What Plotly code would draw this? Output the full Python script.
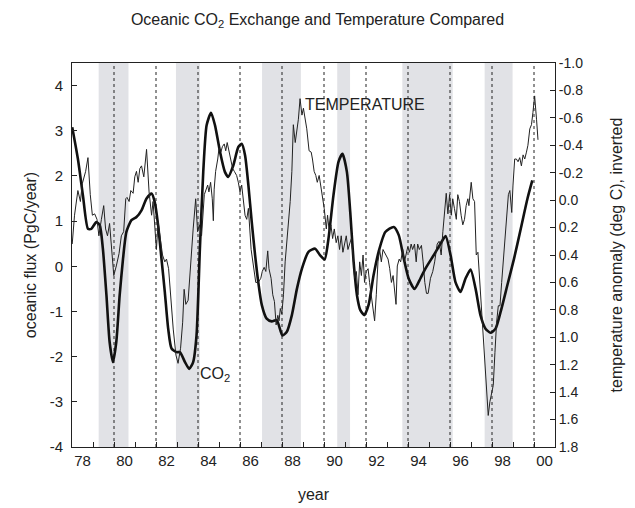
import plotly.graph_objects as go

# ---------------- data ----------------
co2_year = [1978.01, 1978.28, 1978.52, 1978.76, 1978.92, 1979.16, 1979.32, 1979.47, 1979.64, 1979.79,
            1979.95, 1980.11, 1980.27, 1980.43, 1980.59, 1980.83, 1981.07, 1981.31, 1981.55, 1981.79,
            1981.94, 1982.10, 1982.26, 1982.42, 1982.58, 1982.74, 1982.98, 1983.14, 1983.38, 1983.58,
            1983.77, 1983.93, 1984.09, 1984.25, 1984.41, 1984.62, 1984.81, 1985.05, 1985.28, 1985.44,
            1985.68, 1985.92, 1986.08, 1986.24, 1986.40, 1986.56, 1986.72, 1986.87, 1987.04, 1987.27,
            1987.51, 1987.75, 1988.02, 1988.23, 1988.47, 1988.71, 1988.95, 1989.26, 1989.58, 1989.82,
            1990.03, 1990.21, 1990.45, 1990.69, 1990.88, 1991.09, 1991.25, 1991.41, 1991.57, 1991.73,
            1991.92, 1992.12, 1992.36, 1992.60, 1992.92, 1993.32, 1993.56, 1993.80, 1994.03, 1994.31,
            1994.59, 1994.83, 1995.23, 1995.55, 1995.79, 1996.03, 1996.26, 1996.50, 1996.74, 1996.98,
            1997.22, 1997.45, 1997.69, 1997.93, 1998.17, 1998.41, 1998.73, 1999.05, 1999.37, 1999.69,
            1999.92]
co2_flux = [3.08, 2.38, 1.57, 0.83, 0.83, 0.98, 0.91, 0.39, -0.64, -1.67,
            -2.12, -1.67, -0.64, 0.17, 0.76, 1.02, 1.09, 1.24, 1.50, 1.61,
            1.42, 0.91, 0.17, -0.57, -1.38, -1.82, -1.90, -1.90, -2.12, -2.27,
            -2.12, -1.53, 0.39, 2.09, 3.12, 3.40, 3.12, 2.53, 2.09, 1.98,
            2.23, 2.64, 2.71, 2.46, 1.79, 0.98, 0.24, -0.35, -0.86, -1.16,
            -1.22, -1.19, -1.53, -1.45, -1.08, -0.50, -0.05, 0.32, 0.39, 0.24,
            0.15, 0.60, 1.57, 2.31, 2.49, 2.09, 1.20, 0.10, -0.64, -0.97,
            -1.08, -0.86, -0.20, 0.32, 0.76, 0.87, 0.69, 0.17, -0.27, -0.50,
            -0.27, -0.05, 0.25, 0.50, 0.67, 0.24, -0.35, -0.57, -0.27, -0.07,
            -0.50, -1.08, -1.38, -1.47, -1.38, -1.01, -0.42, 0.17, 0.83, 1.50,
            1.90]

temp_year = [1978.01, 1978.12, 1978.28, 1978.40, 1978.49, 1978.65, 1978.76, 1978.87, 1978.97, 1979.08,
             1979.19, 1979.28, 1979.40, 1979.51, 1979.60, 1979.69, 1979.79, 1979.88, 1979.99, 1980.11,
             1980.24, 1980.35, 1980.46, 1980.56, 1980.62, 1980.72, 1980.80, 1980.91, 1980.99, 1981.07,
             1981.15, 1981.23, 1981.31, 1981.42, 1981.55, 1981.67, 1981.79, 1981.86, 1981.94, 1982.02,
             1982.10, 1982.18, 1982.31, 1982.42, 1982.50, 1982.60, 1982.69, 1982.82, 1982.95, 1983.05,
             1983.17, 1983.27, 1983.34, 1983.42, 1983.53, 1983.65, 1983.77, 1983.89, 1983.98, 1984.06,
             1984.17, 1984.30, 1984.38, 1984.46, 1984.52, 1984.60, 1984.68, 1984.73, 1984.77, 1984.84,
             1984.94, 1985.00, 1985.09, 1985.16, 1985.25, 1985.32, 1985.39, 1985.48, 1985.57, 1985.65,
             1985.73, 1985.84, 1985.92, 1986.00, 1986.08, 1986.16, 1986.24, 1986.32, 1986.40, 1986.53,
             1986.64, 1986.75, 1986.87, 1986.99, 1987.06, 1987.15, 1987.23, 1987.32, 1987.38, 1987.48,
             1987.56, 1987.64, 1987.72, 1987.80, 1987.86, 1987.92, 1987.99, 1988.07, 1988.15, 1988.28,
             1988.39, 1988.47, 1988.54, 1988.63, 1988.71, 1988.78, 1988.86, 1988.95, 1989.02, 1989.10,
             1989.18, 1989.29, 1989.39, 1989.45, 1989.53, 1989.61, 1989.68, 1989.77, 1989.87, 1989.95,
             1990.01, 1990.11, 1990.17, 1990.25, 1990.33, 1990.41, 1990.49, 1990.58, 1990.66, 1990.74,
             1990.82, 1990.90, 1990.98, 1991.06, 1991.14, 1991.22, 1991.30, 1991.38, 1991.46, 1991.54,
             1991.62, 1991.70, 1991.78, 1991.86, 1991.93, 1992.01, 1992.10, 1992.17, 1992.25, 1992.33,
             1992.41, 1992.49, 1992.57, 1992.65, 1992.73, 1992.81, 1992.89, 1992.97, 1993.05, 1993.13,
             1993.21, 1993.29, 1993.37, 1993.43, 1993.49, 1993.58, 1993.65, 1993.75, 1993.83, 1993.91,
             1993.99, 1994.07, 1994.15, 1994.22, 1994.31, 1994.39, 1994.46, 1994.54, 1994.64, 1994.72,
             1994.80, 1994.88, 1994.96, 1995.07, 1995.18, 1995.27, 1995.39, 1995.48, 1995.58, 1995.66,
             1995.74, 1995.82, 1995.90, 1995.98, 1996.06, 1996.13, 1996.21, 1996.30, 1996.37, 1996.45,
             1996.53, 1996.61, 1996.69, 1996.77, 1996.85, 1996.90, 1997.01, 1997.09, 1997.17, 1997.25,
             1997.33, 1997.41, 1997.50, 1997.59, 1997.70, 1997.78, 1997.82, 1997.90, 1997.98, 1998.06,
             1998.14, 1998.22, 1998.30, 1998.38, 1998.46, 1998.54, 1998.62, 1998.70, 1998.78, 1998.85,
             1998.94, 1999.00, 1999.08, 1999.16, 1999.24, 1999.32, 1999.40, 1999.48, 1999.56, 1999.64,
             1999.71, 1999.80, 1999.88, 1999.95, 2000.03, 2000.12, 2000.19]
temp_anom = [0.32, 0.11, -0.07, 0.01, -0.12, -0.21, -0.31, -0.04, 0.11, 0.10,
             0.14, 0.26, 0.14, 0.04, 0.21, 0.26, 0.17, 0.36, 0.55, 0.48,
             0.39, 0.26, 0.23, -0.01, -0.02, 0.01, -0.07, -0.05, -0.17, -0.21,
             -0.13, -0.23, -0.25, -0.17, -0.37, -0.06, 0.11, 0.01, 0.16, 0.36,
             0.16, 0.26, 0.40, 0.45, 0.43, 0.50, 0.69, 0.94, 1.13, 1.19,
             1.08, 0.89, 0.65, 0.76, 0.73, 0.45, 0.21, -0.01, 0.23, 0.18,
             0.26, -0.04, -0.08, -0.11, -0.06, -0.13, -0.01, 0.15, -0.08, -0.21,
             -0.30, -0.38, -0.35, -0.39, -0.41, -0.36, -0.42, -0.35, -0.28, -0.23,
             -0.21, -0.18, -0.13, -0.06, -0.11, 0.01, 0.11, 0.14, 0.06, 0.36,
             0.50, 0.60, 0.60, 0.57, 0.52, 0.49, 0.52, 0.37, 0.50, 0.57,
             0.69, 0.74, 0.91, 0.84, 0.88, 0.79, 0.83, 0.69, 0.45, 0.21,
             0.01, -0.21, -0.55, -0.42, -0.50, -0.59, -0.74, -0.62, -0.67, -0.59,
             -0.52, -0.36, -0.35, -0.30, -0.21, -0.18, -0.13, -0.18, -0.08, 0.01,
             0.06, 0.21, 0.11, 0.23, 0.18, 0.28, 0.21, 0.31, 0.26, 0.36,
             0.26, 0.38, 0.33, 0.26, 0.36, 0.32, 0.28, 0.40, 0.57, 0.52,
             0.69, 0.45, 0.55, 0.40, 0.60, 0.52, 0.50, 0.60, 0.69, 0.79,
             0.88, 0.69, 0.45, 0.36, 0.45, 0.36, 0.38, 0.40, 0.43, 0.50,
             0.60, 0.55, 0.69, 0.76, 0.48, 0.43, 0.45, 0.36, 0.45, 0.40,
             0.34, 0.38, 0.32, 0.36, 0.32, 0.45, 0.32, 0.36, 0.33, 0.45,
             0.60, 0.68, 0.68, 0.57, 0.52, 0.45, 0.32, 0.30, 0.40, 0.23,
             0.11, -0.05, 0.10, -0.04, 0.11, -0.01, 0.06, 0.14, -0.04, 0.01,
             0.11, 0.18, 0.14, 0.04, -0.01, 0.04, -0.13, -0.01, 0.01, 0.40,
             0.38, 0.57, 0.82, 1.08, 1.33, 1.52, 1.57, 1.47, 1.42, 1.35,
             1.11, 0.89, 0.77, 0.77, 0.60, 0.43, 0.28, 0.11, -0.04, -0.07,
             0.09, -0.11, -0.30, -0.30, -0.28, -0.31, -0.25, -0.33, -0.30, -0.35,
             -0.40, -0.52, -0.55, -0.64, -0.76, -0.59, -0.44]

shade_start = [1979.27, 1982.95, 1987.05, 1990.63, 1993.73, 1997.65]
shade_end = [1980.69, 1984.09, 1988.90, 1991.24, 1996.13, 1998.98]
dashed_years = [1980, 1982, 1984, 1986, 1988, 1990, 1992, 1994, 1996, 1998, 2000]

x_label_pos = [1978.5, 1980.5, 1982.5, 1984.5, 1986.5, 1988.5, 1990.5, 1992.5, 1994.5, 1996.5, 1998.5, 2000.5]
x_label_text = ["78", "80", "82", "84", "86", "88", "90", "92", "94", "96", "98", "00"]
x_tick_years = list(range(1979, 2001))
left_ticks = [-4, -3, -2, -1, 0, 1, 2, 3, 4]
right_ticks = [-1.0, -0.8, -0.6, -0.4, -0.2, 0.0, 0.2, 0.4, 0.6, 0.8, 1.0, 1.2, 1.4, 1.6, 1.8]

FONT = "Liberation Sans, Arial, sans-serif"
INK = "#222222"

fig = go.Figure()
fig.add_trace(go.Scatter(x=temp_year, y=temp_anom, yaxis="y2", mode="lines",
                         line=dict(color=INK, width=1), showlegend=False, hoverinfo="skip"))
fig.add_trace(go.Scatter(x=co2_year, y=co2_flux, mode="lines",
                         line=dict(color="#111111", width=2.6, shape="spline", smoothing=0.6),
                         showlegend=False, hoverinfo="skip"))

shapes = []
for s, e in zip(shade_start, shade_end):
    shapes.append(dict(type="rect", xref="x", yref="paper", x0=s, x1=e, y0=0, y1=1,
                       fillcolor="#e1e2e6", line=dict(width=0), layer="below"))
for d in dashed_years:
    shapes.append(dict(type="line", xref="x", yref="paper", x0=d, x1=d, y0=0, y1=1,
                       line=dict(color=INK, width=1, dash="3px,3px"), layer="below"))

fig.update_layout(
    width=635, height=508,
    margin=dict(l=72, r=80, t=63, b=61, autoexpand=False),
    paper_bgcolor="white", plot_bgcolor="white",
    font=dict(family=FONT, color=INK, size=15),
    title=dict(text="Oceanic CO<sub>2</sub> Exchange and Temperature Compared",
               x=0.5, xanchor="center", y=0.962, yanchor="middle",
               font=dict(size=16, family=FONT, color=INK)),
    shapes=shapes,
    xaxis=dict(range=[1978, 2001], showgrid=False, zeroline=False, automargin=False,
               showline=True, linecolor=INK, linewidth=1, mirror=True,
               tickmode="array", tickvals=x_label_pos, ticktext=x_label_text,
               ticks="", tickfont=dict(size=15),
               minor=dict(tickmode="array", tickvals=x_tick_years, ticks="inside",
                          ticklen=5, tickcolor=INK, showgrid=False),
               title=dict(text="year", font=dict(size=16), standoff=20)),
    yaxis=dict(range=[-4, 4.5], showgrid=False, zeroline=False, automargin=False,
               showline=True, linecolor=INK, linewidth=1,
               tickmode="array", tickvals=left_ticks,
               ticktext=[str(v) for v in left_ticks],
               ticks="inside", ticklen=5, tickcolor=INK, tickfont=dict(size=15),
               ticklabelstandoff=5,
               title=dict(text="oceanic flux (PgC/year)", font=dict(size=16), standoff=9)),
    yaxis2=dict(range=[1.8, -1.0], overlaying="y", side="right", showgrid=False, zeroline=False,
                automargin=False,
                showline=True, linecolor=INK, linewidth=1,
                tickmode="array", tickvals=right_ticks,
                ticktext=["%.1f" % v for v in right_ticks],
                ticks="inside", ticklen=5, tickcolor=INK, tickfont=dict(size=14),
                title=dict(text="temperature anomaly (deg C), inverted", font=dict(size=16), standoff=28)),
    annotations=[
        dict(text="TEMPERATURE", x=1989.0, y=3.59, xref="x", yref="y", xanchor="left",
             yanchor="middle", showarrow=False, font=dict(size=16, family=FONT, color=INK)),
        dict(text="CO<sub>2</sub>", x=1984.0, y=-2.4, xref="x", yref="y", xanchor="left",
             yanchor="middle", showarrow=False, font=dict(size=16, family=FONT, color=INK)),
    ],
)

fig.write_html("out.html", config={"responsive": False, "displayModeBar": False},
               post_script="document.body.style.margin='0px';document.body.style.overflow='hidden';")
